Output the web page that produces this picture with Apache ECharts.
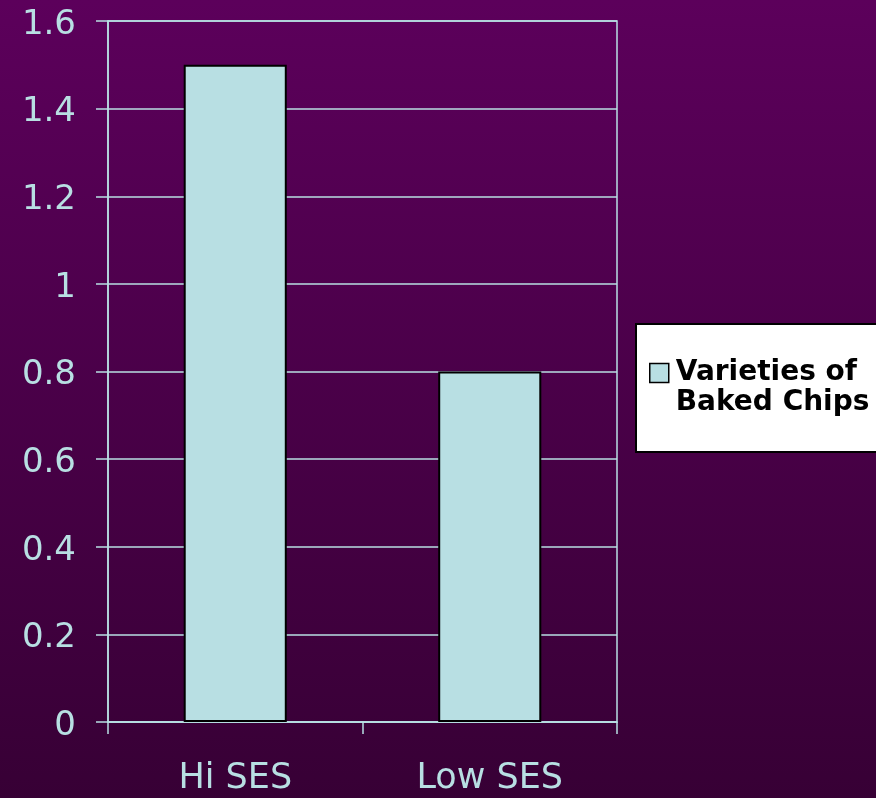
<!DOCTYPE html>
<html>
<head>
<meta charset="utf-8">
<script src="https://cdn.jsdelivr.net/npm/echarts@6/dist/echarts.min.js"></script>
<style>
html,body{margin:0;padding:0;background:#4a0048;}
#chart{width:876px;height:798px;}
</style>
</head>
<body>
<div id="chart"></div>
<script>
var categories = ['Hi SES', 'Low SES'];
var seriesName = 'Varieties of Baked Chips';
var values = [1.5, 0.8];
var yMin = 0, yMax = 1.6, yStep = 0.2;

var cyan = '#b8dfe3';
var chart = echarts.init(document.getElementById('chart'), null, {renderer: 'canvas'});
chart.setOption({
  animation: false,
  backgroundColor: {
    type: 'linear', x: 0, y: 0, x2: 0, y2: 1,
    colorStops: [{offset: 0, color: '#5c005b'}, {offset: 1, color: '#370035'}]
  },
  grid: {
    left: 108, right: 259, top: 21, bottom: 76,
    show: true, borderColor: cyan, borderWidth: 1.5, backgroundColor: 'transparent'
  },
  legend: {
    left: 636, top: 324,
    orient: 'vertical',
    backgroundColor: '#ffffff',
    borderColor: '#000000',
    borderWidth: 2,
    borderRadius: 0,
    padding: [4, 24, 34, 13],
    icon: 'rect',
    itemWidth: 19, itemHeight: 19,
    itemGap: 0,
    textStyle: {
      color: '#000', fontFamily: 'DejaVu Sans', fontWeight: 'bold',
      fontSize: 28, lineHeight: 30, padding: [0, 0, 0, 2]
    },
    formatter: function () { return ' \nVarieties of\nBaked Chips'; },
    itemStyle: {borderColor: '#000', borderWidth: 1.5},
    selectedMode: false
  },
  xAxis: {
    type: 'category',
    data: categories,
    axisLine: {lineStyle: {color: cyan, width: 1.5}},
    axisTick: {show: true, length: 12, lineStyle: {color: cyan, width: 1.5}},
    axisLabel: {color: cyan, fontFamily: 'DejaVu Sans', fontSize: 35, margin: 39}
  },
  yAxis: {
    type: 'value',
    min: yMin, max: yMax, interval: yStep,
    axisLine: {show: true, lineStyle: {color: cyan, width: 1.5}},
    axisTick: {show: true, length: 12, lineStyle: {color: cyan, width: 1.5}},
    splitLine: {show: true, lineStyle: {color: cyan, width: 1.5}},
    axisLabel: {
      margin: 32,
      formatter: function (v) { return '{a|' + v + '}'; },
      rich: {a: {color: cyan, fontFamily: 'DejaVu Sans', fontSize: 34, padding: [8, 0, 0, 0]}}
    }
  },
  series: [{
    name: seriesName,
    type: 'bar',
    data: values,
    barWidth: '40.5%',
    itemStyle: {color: cyan, borderColor: '#000', borderWidth: 2}
  }]
});
</script>
</body>
</html>
